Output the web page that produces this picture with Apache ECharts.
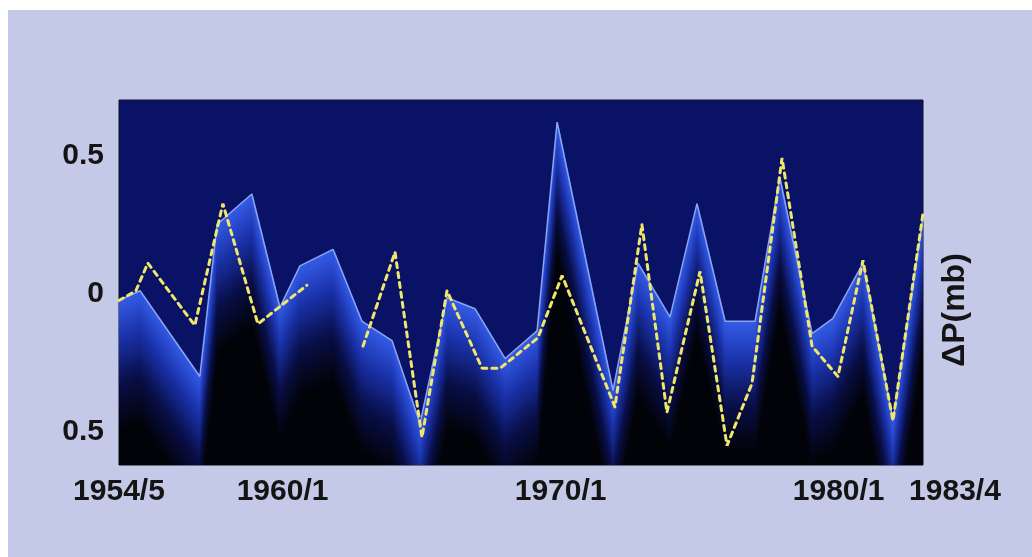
<!DOCTYPE html>
<html>
<head>
<meta charset="utf-8">
<script src="https://cdn.jsdelivr.net/npm/echarts@6/dist/echarts.min.js"></script>
<style>
  html, body { margin: 0; padding: 0; background: #ffffff; }
  #wrap { position: relative; width: 1032px; height: 557px; background: #ffffff; }
  #paper { position: absolute; left: 8px; top: 10px; width: 1024px; height: 547px; background: #c5c9e8; }
  #chart { position: absolute; left: 0; top: 0; width: 1032px; height: 557px; }
</style>
</head>
<body>
<div id="wrap"><div id="paper"></div><div id="chart"></div></div>
<script>
// ---- data ----
const blueYears  = [1954.33, 1955.09, 1957.24, 1957.86, 1959.11, 1960.12, 1960.84, 1962.03, 1963.07, 1964.15,
                    1965.16, 1966.13, 1967.14, 1968.22, 1969.37, 1970.09, 1972.10, 1973.00, 1974.15, 1975.12,
                    1976.13, 1977.21, 1978.10, 1979.26, 1980.01, 1981.09, 1982.17, 1983.25];
const blueValues = [-0.025, 0.01, -0.30, 0.25, 0.36, -0.05, 0.10, 0.16, -0.10, -0.17,
                    -0.47, -0.015, -0.055, -0.235, -0.135, 0.62, -0.35, 0.11, -0.085, 0.325,
                    -0.10, -0.10, 0.42, -0.145, -0.09, 0.11, -0.46, 0.275];

const yellowYears  = [1954.33, 1954.94, 1955.37, 1957.06, 1958.07, 1959.33, 1961.09, 1962.10,
                      1963.11, 1964.26, 1965.23, 1966.13, 1967.39, 1968.04, 1969.40, 1970.27, 1972.17,
                      1973.14, 1974.04, 1975.23, 1976.20, 1977.10, 1978.18, 1979.26, 1980.19, 1981.09,
                      1982.17, 1983.25];
const yellowValues = [-0.025, 0.01, 0.11, -0.115, 0.325, -0.11, 0.03, null,
                      -0.19, 0.15, -0.52, 0.01, -0.27, -0.27, -0.16, 0.065, -0.41,
                      0.25, -0.43, 0.08, -0.55, -0.325, 0.49, -0.19, -0.30, 0.12,
                      -0.46, 0.29];

const xTickValues = [1954 + 4 / 12, 1960, 1970, 1980, 1983 + 3 / 12];
const xTickLabels = ['1954/5', '1960/1', '1970/1', '1980/1', '1983/4'];
const yTickValues = [-0.5, 0, 0.5];
const yTickLabels = ['0.5', '0', '0.5'];
const axisName = 'ΔP(mb)';

// ---- chart ----
const chart = echarts.init(document.getElementById('chart'), null, { renderer: 'canvas' });

function pairs(xs, ys) { return xs.map((x, i) => [x, ys[i]]); }

const GLOW_H = 130;
const glowFill = {
  type: 'linear', x: 0, y: 0, x2: 0, y2: 1,
  colorStops: [
    { offset: 0, color: 'rgb(52,92,232)' },
    { offset: 0.3, color: 'rgb(26,50,170)' },
    { offset: 0.65, color: 'rgb(8,14,70)' },
    { offset: 1, color: 'rgb(2,3,9)' }
  ]
};
function renderGlow(params, api) {
  const i = params.dataIndex;
  if (i >= blueYears.length - 1) return;
  const p1 = api.coord([blueYears[i], blueValues[i]]);
  const p2 = api.coord([blueYears[i + 1], blueValues[i + 1]]);
  const dx = p2[0] - p1[0], dy = p2[1] - p1[1];
  const n = Math.max(1, Math.ceil(dx / 2), Math.ceil(Math.abs(dy) / 3));
  const children = [];
  for (let k = 0; k < n; k++) {
    const xa = p1[0] + dx * k / n, xb = p1[0] + dx * (k + 1) / n + 1;
    const ya = p1[1] + dy * k / n, yb = p1[1] + dy * (k + 1) / n;
    children.push({
      type: 'polygon',
      silent: true,
      shape: { points: [[xa, ya], [xb, yb], [xb, yb + GLOW_H], [xa, ya + GLOW_H]] },
      style: { fill: glowFill }
    });
  }
  return { type: 'group', children };
}

const FONT = '"Liberation Sans", Arial, sans-serif';
const labelFont = { fontFamily: FONT, fontWeight: 'bold', fontSize: 30, color: '#141414' };

chart.setOption({
  animation: false,
  backgroundColor: 'transparent',
  grid: {
    left: 119, right: 109, top: 100, bottom: 92,
    show: true, backgroundColor: '#0a1266', borderColor: '#101018', borderWidth: 1
  },
  xAxis: {
    type: 'value',
    min: xTickValues[0], max: xTickValues[xTickValues.length - 1],
    splitLine: { show: false },
    axisLine: { show: false },
    axisTick: { show: false },
    axisLabel: {
      customValues: xTickValues,
      margin: 12,
      ...labelFont,
      formatter: function (v) {
        let idx = 0, best = Infinity;
        xTickValues.forEach((t, i) => { const d = Math.abs(t - v); if (d < best) { best = d; idx = i; } });
        const s = xTickLabels[idx];
        if (idx === 0) return '{f|' + s + '}';
        if (idx === xTickLabels.length - 1) return '{l|' + s + '}';
        return '{m|' + s + '}';
      },
      rich: {
        f: { ...labelFont },
        m: { ...labelFont, padding: [0, 0, 0, 12] },
        l: { ...labelFont, padding: [0, 0, 0, 64] }
      }
    }
  },
  yAxis: {
    type: 'value',
    min: -0.62, max: 0.70,
    splitLine: { show: false },
    axisLine: { show: false },
    axisTick: { show: false },
    axisLabel: {
      customValues: yTickValues,
      margin: 15,
      ...labelFont,
      formatter: function (v) {
        const idx = yTickValues.findIndex(t => Math.abs(t - v) < 1e-6);
        return idx >= 0 ? yTickLabels[idx] : '';
      }
    }
  },
  graphic: [{
    type: 'text',
    x: 955, y: 310,
    rotation: Math.PI / 2,
    style: {
      text: axisName, fill: '#141414',
      font: 'bold 32px ' + FONT,
      align: 'center', verticalAlign: 'middle'
    }
  }],
  series: [
    {
      type: 'line', z: 1,
      data: pairs(blueYears, blueValues),
      showSymbol: false,
      lineStyle: { width: 0, opacity: 0 },
      areaStyle: { color: '#020309', opacity: 1, origin: 'start' },
      silent: true
    },
    {
      type: 'custom', z: 2, clip: true,
      data: pairs(blueYears, blueValues),
      renderItem: renderGlow,
      silent: true
    },
    {
      type: 'line', z: 3,
      data: pairs(blueYears, blueValues),
      showSymbol: false,
      lineStyle: { color: '#8aa4f2', width: 1.5 },
      silent: true
    },
    {
      type: 'line', z: 4,
      data: pairs(yellowYears, yellowValues),
      showSymbol: false,
      connectNulls: false,
      lineStyle: { color: '#f0e76a', width: 3, type: [5, 5], cap: 'round' },
      silent: true
    }
  ]
});
</script>
</body>
</html>
